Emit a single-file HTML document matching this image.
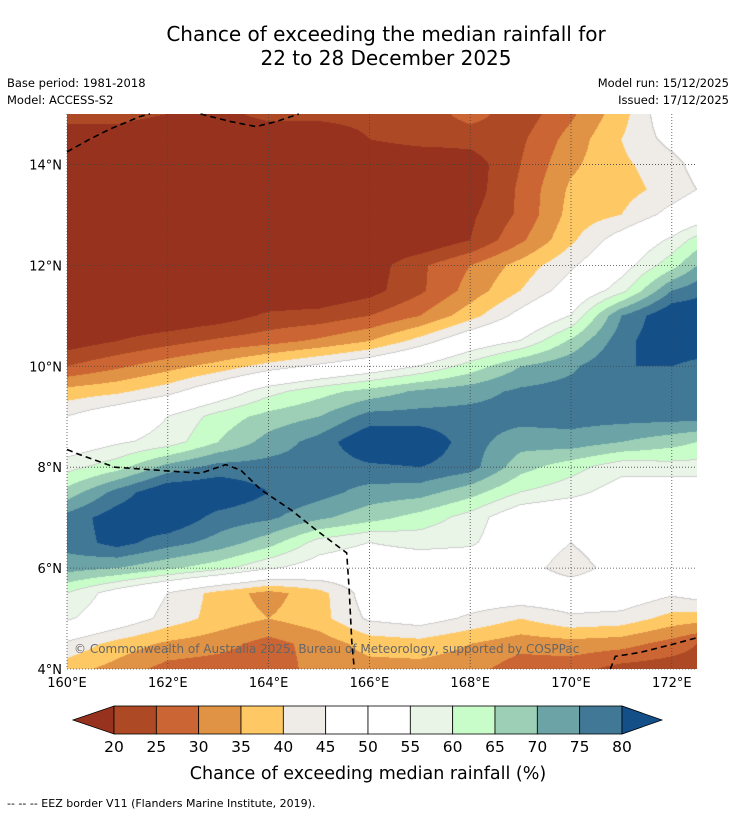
<!DOCTYPE html>
<html><head><meta charset="utf-8">
<style>
body{margin:0;background:#fff;width:736px;height:816px;position:relative;overflow:hidden;font-family:"DejaVu Sans","Liberation Sans",sans-serif;color:#000}
.t{position:absolute;white-space:nowrap}
</style></head><body>
<div class="t" style="left:0;width:772px;top:22px;text-align:center;font-size:20px;line-height:24px">Chance of exceeding the median rainfall for<br>22 to 28 December 2025</div>
<div class="t" style="left:7px;top:76px;font-size:11.5px">Base period: 1981-2018</div>
<div class="t" style="left:7px;top:93px;font-size:11.5px">Model: ACCESS-S2</div>
<div class="t" style="right:7px;top:76px;font-size:11.5px">Model run: 15/12/2025</div>
<div class="t" style="right:7px;top:93px;font-size:11.5px">Issued: 17/12/2025</div>
<svg id="map" width="736" height="816" style="position:absolute;left:0;top:0" font-family="DejaVu Sans, Liberation Sans, sans-serif">
  <foreignObject x="67" y="114" width="630" height="555"><canvas id="cv" width="630" height="555" xmlns="http://www.w3.org/1999/xhtml"></canvas></foreignObject>
  <g id="grid"></g><g id="eez"></g><g id="axes"></g><g id="cbar"></g>
  <text x="74" y="653" font-size="12" fill="#666">© Commonwealth of Australia 2025, Bureau of Meteorology, supported by COSPPac</text>
  <text x="368" y="779" font-size="17.5" text-anchor="middle">Chance of exceeding median rainfall (%)</text>
  <text x="7" y="807" font-size="11">--  --  -- EEZ border V11 (Flanders Marine Institute, 2019).</text>
</svg>
<script>
const lons=[160,161,162,163,164,165,166,167,168,169,170,171,172,172.5];
const lats=[15,14.5,14,13.5,13,12.5,12,11.5,11,10.5,10,9.5,9,8.5,8,7.5,7,6.5,6,5.5,5,4.5,4];
const row15=[22,22,20,18,22,22,22,22,27,22,29,38,50,50];
const row145=[17,17,15,15,15,15,20,22,22,24,32,40,47,50];
const row14=[15,15,15,15,15,15,15,15,17,25,34,39,43,47];
const row135=[15,15,15,15,15,15,15,15,17,26,36,38,42,45];
const row13=[15,15,15,15,15,15,15,15,19,26,37,40,47,50];
const row125=[15,15,15,15,15,15,15,15,20,29,39,48,56,62];
const row12=[15,15,15,15,15,15,17,24,30,37,44,52,63,70];
const row115=[15,15,15,15,15,15,18,24,32,40,48,58,75,78];
const row11=[15,15,15,17,21,22,25,30,38,47,55,75,85,85];
const row105=[17,20,23,26,28,31,35,42,50,55,66,78,85,85];
const row10=[25,29,33,37,42,46,50,55,62,70,74,80,80,78];
const row95=[37,39,43,50,58,63,67,71,73,76,77,77,77,77];
const row9=[45,50,55,62,67,70,77,77,77,77,77,77,77,77];
const row85=[50,54,57,65,72,77,85,85,77,72,73,70,67,65];
const row8=[58,63,72,77,77,77,79,80,77,67,62,57,58,58];
const row75=[67,77,85,85,80,77,73,72,67,60,57,52,50,50];
const row7=[77,83,85,78,76,71,67,63,58,50,48,50,50,50];
const row65=[77,82,77,73,67,58,55,57,56,50,45,50,50,50];
const row6=[72,70,66,62,56,52,50,50,50,48,42,48,50,50];
const row55=[60,52,45,38,33,38,48,50,50,50,50,50,46,48];
const row5=[56,50,43,38,35,38,46,48,44,40,44,43,38,37];
const row45=[44,38,34,32,28,32,37,38,35,32,33,32,28,25];
const row4=[37,33,28,27,27,32,33,33,32,27,27,23,22,22];
const field=[row15,row145,row14,row135,row13,row125,row12,row115,row11,row105,row10,row95,row9,row85,row8,row75,row7,row65,row6,row55,row5,row45,row4];
const levels=[20,25,30,35,40,45,50,55,60,65,70,75,80];
const colors=['#97321f','#ad4a25','#cb6533','#e09245','#fec965','#efebe6','#ffffff','#ffffff','#e9f5e7','#c8fdc9','#9ccfb5','#6ba3a6','#417896','#154f88'];
const tickLabels=['20','25','30','35','40','45','50','55','60','65','70','75','80'];
const lonTicks=[160,162,164,166,168,170,172];
const latTicks=[4,6,8,10,12,14];

const X0=67,X1=697,Y0=114,Y1=669,LON0=160,LON1=172.5,LAT0=15,LAT1=4;
const xs=lon=>X0+(lon-LON0)/(LON1-LON0)*(X1-X0);
const ys=lat=>Y0+(LAT0-lat)/(LAT0-LAT1)*(Y1-Y0);
function hex(c){return [parseInt(c.substr(1,2),16),parseInt(c.substr(3,2),16),parseInt(c.substr(5,2),16)];}
function bandOf(v){let k=0;while(k<levels.length&&v>=levels[k])k++;return k;}
function interp(lon,lat){
  let i=0;while(i<lons.length-2&&lon>lons[i+1])i++;
  let j=0;while(j<lats.length-2&&lat<lats[j+1])j++;
  let tx=(lon-lons[i])/(lons[i+1]-lons[i]);tx=Math.max(0,Math.min(1,tx));
  let ty=(lats[j]-lat)/(lats[j]-lats[j+1]);ty=Math.max(0,Math.min(1,ty));
  const a=field[j][i],b=field[j][i+1],c=field[j+1][i],d=field[j+1][i+1];
  return a*(1-tx)*(1-ty)+b*tx*(1-ty)+c*(1-tx)*ty+d*tx*ty;
}
const cv=document.getElementById('cv');


const ctx=cv.getContext('2d');const W=630,H=555;
const img=ctx.createImageData(W,H);const rgb=colors.map(hex);
const bands=new Int8Array(W*H);
for(let py=0;py<H;py++)for(let px=0;px<W;px++){
  const lon=LON0+(px+0.5)/W*(LON1-LON0),lat=LAT0-(py+0.5)/H*(LAT0-LAT1);
  bands[py*W+px]=bandOf(interp(lon,lat));
}
for(let py=0;py<H;py++)for(let px=0;px<W;px++){
  const b=bands[py*W+px];let c=rgb[b];
  const r=px<W-1?bands[py*W+px+1]:b,d=py<H-1?bands[(py+1)*W+px]:b;
  if(r!==b||d!==b){const o=r!==b?r:d;const lo=Math.min(b,o),hi=Math.max(b,o);
    if(lo>=5&&hi<=9&&!(lo===6&&hi===7))c=[205,205,205];}
  const k=(py*W+px)*4;img.data[k]=c[0];img.data[k+1]=c[1];img.data[k+2]=c[2];img.data[k+3]=255;
}
ctx.putImageData(img,0,0);

const NS='http://www.w3.org/2000/svg';
function mk(tag,attrs,parent){const e=document.createElementNS(NS,tag);for(const k in attrs)e.setAttribute(k,attrs[k]);parent.appendChild(e);return e;}
const grid=document.getElementById('grid'),axes=document.getElementById('axes');
lonTicks.forEach(l=>{
  const x=xs(l);
  const g=mk('line',{x1:x,x2:x,y1:Y0,y2:Y1,stroke:'#444','stroke-width':0.8,'stroke-dasharray':'1,2'},grid);
  
  
  const t=mk('text',{x:x,y:Y1+18,'font-size':13,'text-anchor':'middle'},axes);
  t.textContent=l+'°E';
  
  
});
latTicks.forEach(l=>{
  const y=ys(l);
  const g=mk('line',{x1:X0,x2:X1,y1:y,y2:y,stroke:'#444','stroke-width':0.8,'stroke-dasharray':'1,2'},grid);
  
  
  const t=mk('text',{x:X0-5,y:y+5,'font-size':13,'text-anchor':'end'},axes);
  t.textContent=l+'°N';
  
  
});
const eezLines=[[[160,14.25],[160.45,14.5],[160.85,14.7],[161.45,14.95],[161.65,15]],[[162.65,15],[163.25,14.85],[163.75,14.75],[164.15,14.85],[164.6,15]],[[160,8.35],[160.25,8.25],[160.95,8],[161.65,7.95],[162.65,7.88],[163.15,8.05],[163.45,7.94],[163.85,7.55],[164.45,7.15],[164.95,6.75],[165.55,6.3],[165.6,5.55],[165.65,4.55],[165.7,4]],[[170.78,4],[170.88,4.25],[171.38,4.33],[171.98,4.48],[172.5,4.62]]];
const eez=document.getElementById('eez');
eezLines.forEach(seg=>{
  const p=mk('polyline',{points:seg.map(q=>xs(q[0])+','+ys(q[1])).join(' '),fill:'none',stroke:'#000','stroke-width':1.6,'stroke-dasharray':'6,4'},eez);
  
  
});
const cb=document.getElementById('cbar');
const CBL=114,CBR=622,CBT=706,CBB=734,CBW=(CBR-CBL)/(levels.length-1);
const lt=mk('polygon',{points:`73,${(CBT+CBB)/2} ${CBL},${CBT} ${CBL},${CBB}`,fill:colors[0],stroke:'#000','stroke-width':0.8},cb);


for(let k=1;k<levels.length;k++){
  const r=mk('rect',{x:CBL+(k-1)*CBW,y:CBT,width:CBW,height:CBB-CBT,fill:colors[k],stroke:'#000','stroke-width':0.8},cb);
  
  
}
const rt=mk('polygon',{points:`662,${(CBT+CBB)/2} ${CBR},${CBT} ${CBR},${CBB}`,fill:colors[colors.length-1],stroke:'#000','stroke-width':0.8},cb);


tickLabels.forEach((s,k)=>{
  const t=mk('text',{x:CBL+k*CBW,y:752,'font-size':15.5,'text-anchor':'middle'},cb);
  t.textContent=s;
  
  
});
</script>
</body></html>
